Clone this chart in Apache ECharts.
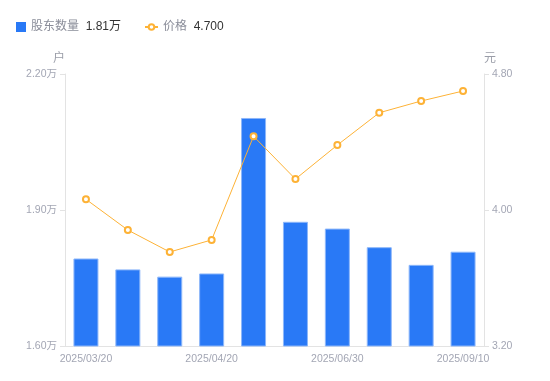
<!DOCTYPE html>
<html>
<head>
<meta charset="utf-8">
<script src="https://cdn.jsdelivr.net/npm/echarts@6/dist/echarts.min.js"></script>
<style>
  html, body { margin: 0; padding: 0; background: #fff; }
  #main { width: 550px; height: 381px; }
</style>
</head>
<body>
<div id="main"></div>
<script>
// 日期
var dates = ['2025/03/20', '2025/03/31', '2025/04/10', '2025/04/20', '2025/04/30',
             '2025/05/31', '2025/06/30', '2025/07/31', '2025/08/20', '2025/09/10'];
// 股东数量（万户）
var holders = [1.793, 1.769, 1.753, 1.760, 2.103, 1.874, 1.859, 1.818, 1.779, 1.808];
// 价格（元）
var prices = [4.063, 3.882, 3.753, 3.824, 4.434, 4.182, 4.382, 4.572, 4.641, 4.700];

var font = 'Liberation Sans, Noto Sans CJK SC, sans-serif';
var axisGray = '#a3a6b4';

var myChart = echarts.init(document.getElementById('main'));

// 图例显示最新值
var lastHolder = holders[holders.length - 1].toFixed(2) + '万';
var lastPrice = prices[prices.length - 1].toFixed(3);

function legendText(name, val) {
	return '{n|' + name + '}  {v|' + val + '}';
}
var legendRich = {
	n: { color: '#8a8d99', fontSize: 12, fontFamily: font },
	v: { color: '#333', fontSize: 12, fontFamily: font }
};

option = {
	animation: false,
	legend: [
		{
			data: [{ name: '股东数量', icon: 'rect', itemStyle: { borderWidth: 0 } }],
			left: 11, top: 16,
			itemWidth: 10, itemHeight: 10, itemGap: 5,
			formatter: function () { return legendText('股东数量', lastHolder); },
			textStyle: { rich: legendRich }
		},
		{
			data: [{ name: '价格' }],
			left: 139, top: 16,
			itemWidth: 13, itemHeight: 7,
			formatter: function () { return legendText('价格', lastPrice); },
			textStyle: { rich: legendRich }
		}
	],
	grid: { left: 65, right: 66, top: 74, bottom: 35 },
	xAxis: {
		type: 'category',
		data: dates,
		axisLine: { lineStyle: { color: '#e3e3e3' } },
		axisTick: { show: false },
		axisLabel: { interval: 2, color: axisGray, fontSize: 10.5, fontFamily: font, margin: 8 }
	},
	yAxis: [
		{
			type: 'value',
			name: '户',
			nameLocation: 'end',
			nameGap: 9,
			nameTextStyle: { color: '#9a9da8', fontSize: 12, align: 'right', fontFamily: font },
			min: 1.6, max: 2.2, interval: 0.3,
			axisLine: { show: true, lineStyle: { color: '#e3e3e3' } },
			axisTick: { show: true, length: 5, lineStyle: { color: '#e3e3e3' } },
			splitLine: { show: false },
			axisLabel: {
				color: axisGray, fontSize: 10.5, fontFamily: font,
				formatter: function (v) { return v.toFixed(2) + '万'; }
			}
		},
		{
			type: 'value',
			name: '元',
			nameLocation: 'end',
			nameGap: 9,
			nameTextStyle: { color: '#9a9da8', fontSize: 12, align: 'left', fontFamily: font },
			min: 3.2, max: 4.8, interval: 0.8,
			axisLine: { show: true, lineStyle: { color: '#e3e3e3' } },
			axisTick: { show: true, length: 5, lineStyle: { color: '#e3e3e3' } },
			splitLine: { show: false },
			axisLabel: {
				color: axisGray, fontSize: 10.5, fontFamily: font,
				formatter: function (v) { return v.toFixed(2); }
			}
		}
	],
	series: [
		{
			name: '股东数量',
			type: 'bar',
			yAxisIndex: 0,
			barWidth: 25,
			itemStyle: { color: '#2979f6', borderColor: '#8db7fa', borderWidth: 1 },
			data: holders
		},
		{
			name: '价格',
			type: 'line',
			yAxisIndex: 1,
			symbol: 'emptyCircle',
			symbolSize: 6,
			itemStyle: { color: '#fdb236', borderWidth: 2 },
			lineStyle: { color: '#fdb236', width: 1 },
			data: prices
		}
	]
};
myChart.setOption(option);
window.onresize = myChart.resize;
</script>
</body>
</html>
